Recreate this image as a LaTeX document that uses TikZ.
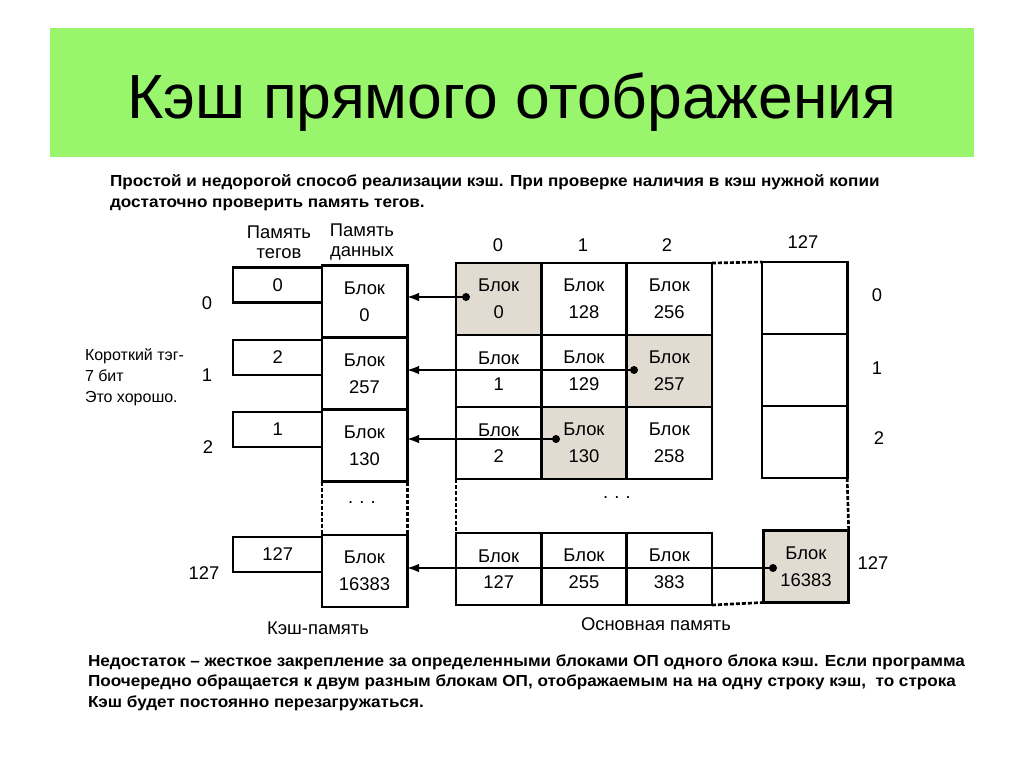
\documentclass[tikz,border=0pt]{standalone}
\usepackage{fontspec}
\setmainfont{Liberation Sans}
\newfontfamily\notefont[FakeStretch=1.07]{Liberation Sans}
\usetikzlibrary{arrows.meta}

\definecolor{titlegreen}{RGB}{152,245,108}
\definecolor{cellgray}{RGB}{226,219,210}

\tikzset{
  cell/.style={rectangle, draw=black, line width=2pt, align=center,
    minimum width=64pt, minimum height=54pt,
    font=\fontsize{13.8pt}{20pt}\selectfont},
  tagbox/.style={rectangle, draw=black, line width=2pt,
    minimum width=67pt, minimum height=26.25pt,
    font=\fontsize{13.8pt}{16pt}\selectfont},
  hit/.style={cell, fill=cellgray},
  lbl/.style={font=\fontsize{13.8pt}{15pt}\selectfont, align=center},
  dotline/.style={line width=2pt, dash pattern=on 3pt off 1.5pt},
  pin/.style={circle, fill=black, minimum size=6pt},
  link/.style={line width=1.2pt, -{Latex[length=9pt, width=6.5pt]}},
  note/.style={anchor=base west, font=\notefont\bfseries\fontsize{12pt}{14pt}\selectfont},
}

\begin{document}
\begin{tikzpicture}[x=0.75pt, y=-0.75pt, inner sep=0, outer sep=0]
  \useasboundingbox (0,0) rectangle (1024,767);

  % title bar
  \node[rectangle, fill=titlegreen, minimum width=693pt, minimum height=97pt] (bar) at (512,92.5) {};
  \node[anchor=base, font=\fontsize{46.8pt}{50pt}\selectfont] (title) at (512,118) {Кэш прямого отображения};

  \node[note] (intro1) at (110,186) {Простой и недорогой способ реализации кэш. При проверке наличия в кэш нужной копии};
  \node[note] (intro2) at (110,207) {достаточно проверить память тегов.};

  % cache memory
  \node[lbl] (taghead) at (279,242) {Память\\тегов};
  \node[lbl] (datahead) at (362,242) {Память\\данных};

  \node[tagbox] (tag0) at (277.75,285) {0};
  \node[tagbox] (tag1) at (277.75,357.5) {2};
  \node[tagbox] (tag2) at (277.75,429.5) {1};
  \node[tagbox] (tag127) at (277.75,554.5) {127};

  \node[cell, fill=white] (data0) at (364.5,301.5) {Блок\\0};
  \node[cell, fill=white] (data1) at (364.5,373.5) {Блок\\257};
  \node[cell, fill=white] (data2) at (364.5,445.5) {Блок\\130};
  \node[cell, fill=white] (data127) at (364.5,571) {Блок\\16383};

  \draw[dotline] (data2.south west) -- (data127.north west);
  \draw[dotline] (data2.south east) -- (data127.north east);
  \node[lbl] (cachedots) at (362,503) {.\,\,.\,\,.};

  \node[lbl] (crow0) at (207,303) {0};
  \node[lbl] (crow1) at (207,375) {1};
  \node[lbl] (crow2) at (208,447) {2};
  \node[lbl] (crow127) at (204,573) {127};
  \node[lbl] (cachename) at (318,628) {Кэш-память};

  \node[anchor=base west, font=\fontsize{12pt}{15.75pt}\selectfont] (short1) at (85,360) {Короткий тэг-};
  \node[anchor=base west, font=\fontsize{12pt}{15.75pt}\selectfont] (short2) at (85,381) {7 бит};
  \node[anchor=base west, font=\fontsize{12pt}{15.75pt}\selectfont] (short3) at (85,402) {Это хорошо.};

  % main memory
  \node[hit] (m00) at (498.7,299) {Блок\\0};
  \node[cell] (m01) at (584,299) {Блок\\128};
  \node[cell] (m02) at (669.3,299) {Блок\\256};
  \node[cell] (m10) at (498.7,371) {Блок\\1};
  \node[cell] (m11) at (584,371) {Блок\\129};
  \node[hit] (m12) at (669.3,371) {Блок\\257};
  \node[cell] (m20) at (498.7,443) {Блок\\2};
  \node[hit] (m21) at (584,443) {Блок\\130};
  \node[cell] (m22) at (669.3,443) {Блок\\258};

  \node[cell] (c0) at (804.5,298) {};
  \node[cell] (c1) at (804.5,370) {};
  \node[cell] (c2) at (804.5,442) {};

  \node[cell] (b0) at (498.7,569) {Блок\\127};
  \node[cell] (b1) at (584,569) {Блок\\255};
  \node[cell] (b2) at (669.3,569) {Блок\\383};
  \node[hit] (blk) at (806,566.5) {Блок\\16383};

  \draw[dotline] (m02.north east) -- (c0.north west);
  \draw[dotline] (m20.south west) -- (b0.north west);
  \draw[dotline] (c2.south east) -- (blk.north east);
  \draw[dotline] (b2.south east) -- (blk.south west);
  \node[lbl] (maindots) at (617,498) {.\,\,.\,\,.};

  \node[lbl] (col0) at (498,245) {0};
  \node[lbl] (col1) at (583,245) {1};
  \node[lbl] (col2) at (667,245) {2};
  \node[lbl] (col127) at (803,242) {127};
  \node[lbl] (mrow0) at (877,295) {0};
  \node[lbl] (mrow1) at (877,368) {1};
  \node[lbl] (mrow2) at (879,438) {2};
  \node[lbl] (mrow127) at (873,563) {127};
  \node[lbl] (mainname) at (656,624) {Основная память};

  % mapping links
  \node[pin] (pin0) at (466,297) {};
  \node[pin] (pin1) at (634,370) {};
  \node[pin] (pin2) at (556,439) {};
  \node[pin] (pin127) at (773,568) {};
  \draw[link] (pin0.center) -- (data0.east |- pin0.center);
  \draw[link] (pin1.center) -- (data1.east |- pin1.center);
  \draw[link] (pin2.center) -- (data2.east |- pin2.center);
  \draw[link] (pin127.center) -- (data127.east |- pin127.center);

  \node[note] (flaw1) at (88,666) {Недостаток – жесткое закрепление за определенными блоками ОП одного блока кэш. Если программа};
  \node[note] (flaw2) at (88,686) {Поочередно обращается к двум разным блокам ОП, отображаемым на на одну строку кэш,\ \ то строка};
  \node[note] (flaw3) at (88,707) {Кэш будет постоянно перезагружаться.};
\end{tikzpicture}
\end{document}
